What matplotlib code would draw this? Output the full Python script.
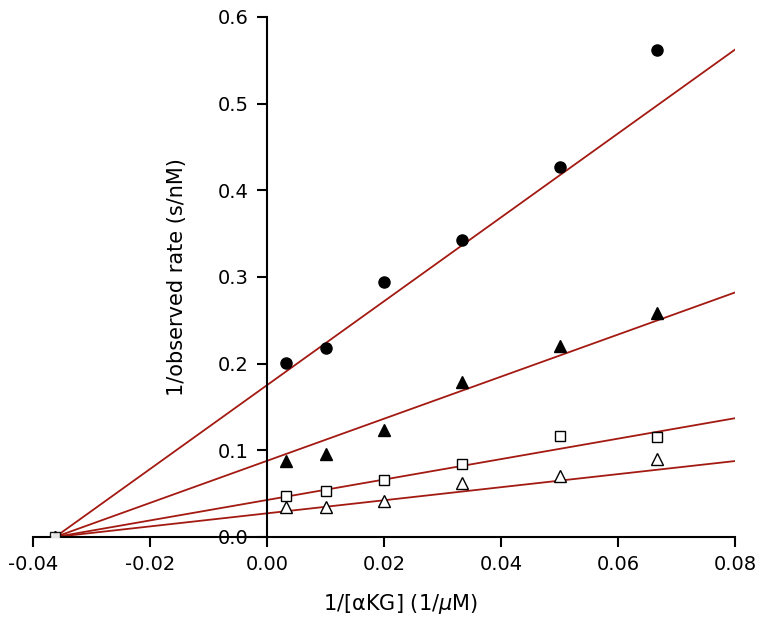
import matplotlib
matplotlib.use("Agg")
import matplotlib.pyplot as plt
import numpy as np

# 1/[aKG] values (1/uM) for 300, 100, 50, 30, 20, 15 uM
inv_akg = [0.00333, 0.01, 0.02, 0.0333, 0.05, 0.0667]

# 1/observed rate (s/nM) for each series
circle_vals = [0.2005, 0.218, 0.2945, 0.3426, 0.427, 0.5615]
filled_tri_vals = [0.088, 0.096, 0.124, 0.179, 0.2205, 0.258]
square_vals = [0.047, 0.053, 0.0655, 0.0844, 0.1164, 0.1156]
open_tri_vals = [0.0347, 0.0347, 0.042, 0.0624, 0.070, 0.0895]

# shared x-intercept (-1/Km) and y-intercepts of the fitted lines
x_intercept = -0.0362
fit_intercepts = [0.1752, 0.0879, 0.0427, 0.0273]
x_end = 0.08

LINE_COLOR = "#a31a12"

plt.rcParams["font.family"] = ["DejaVu Sans"]

fig = plt.figure(figsize=(7.61, 6.25), dpi=100)
ax = fig.add_axes([33 / 761, 88 / 625, 702 / 761, 520 / 625])

# fitted lines, all drawn from the common x-intercept
x_line = np.array([x_intercept, x_end])
for b in fit_intercepts:
    slope = b / -x_intercept
    ax.plot(x_line, b + slope * x_line, color=LINE_COLOR, lw=1.3, zorder=2)

ax.plot(inv_akg, circle_vals, "o", color="black", ms=8, zorder=3)
ax.plot(inv_akg, filled_tri_vals, "^", color="black", ms=8, zorder=3)
ax.plot(inv_akg, square_vals, "s", mfc="white", mec="black", mew=1.0, ms=7.5, zorder=3)
ax.plot(inv_akg, open_tri_vals, "^", mfc="white", mec="black", mew=1.0, ms=8, zorder=3)

# intercept points
ax.plot([x_intercept], [0], "^", mfc="white", mec="black", mew=1.0, ms=8, zorder=4)
ax.plot([x_intercept], [0], "^", color="black", ms=8, zorder=4)
ax.plot([x_intercept], [0], "s", mfc="white", mec="black", mew=1.0, ms=7.5, zorder=4, alpha=0.9)

ax.set_xlim(-0.04, 0.08)
ax.set_ylim(0, 0.6)
ax.spines["left"].set_position(("data", 0))
ax.spines["bottom"].set_position(("data", 0))
ax.spines["top"].set_visible(False)
ax.spines["right"].set_visible(False)
for side in ["left", "bottom"]:
    ax.spines[side].set_linewidth(1.5)

ax.set_xticks([-0.04, -0.02, 0.0, 0.02, 0.04, 0.06, 0.08])
ax.set_xticklabels(["-0.04", "-0.02", "0.00", "0.02", "0.04", "0.06", "0.08"])
ax.set_yticks([0.0, 0.1, 0.2, 0.3, 0.4, 0.5, 0.6])
ax.set_yticklabels(["0.0", "0.1", "0.2", "0.3", "0.4", "0.5", "0.6"])
ax.tick_params(direction="out", length=7, width=1.5, labelsize=14, pad=6)

ax.set_xlabel("1/[αKG] (1/$\\mu$M)", fontsize=15)
ax.set_ylabel("1/observed rate (s/nM)", fontsize=15)
ax.xaxis.set_label_coords(0.524, -0.106)
ax.yaxis.set_label_coords(0.219, 0.5)

fig.savefig("out.png", dpi=100)
